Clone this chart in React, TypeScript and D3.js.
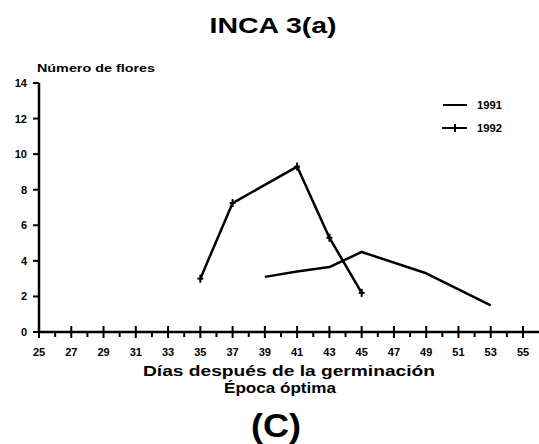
import React from 'react';
import * as d3 from 'd3';

const WIDTH = 539;
const HEIGHT = 444;
const FONT = "'Liberation Sans', Arial, sans-serif";

// días después de la germinación
const DAYS_1991 = [39, 41, 43, 45, 49, 53];
const FLOWERS_1991 = [3.1, 3.4, 3.65, 4.5, 3.3, 1.5];
const DAYS_1992 = [35, 37, 41, 43, 45];
const FLOWERS_1992 = [3.0, 7.25, 9.3, 5.3, 2.2];

const X_TICKS = [25, 27, 29, 31, 33, 35, 37, 39, 41, 43, 45, 47, 49, 51, 53, 55];
const X_MINOR = [26, 28, 30, 32, 34, 36, 38, 40, 42, 44, 46, 48, 50, 52, 54];
const Y_TICKS = [0, 2, 4, 6, 8, 10, 12, 14];

export default function App() {
    const x = d3.scaleLinear().domain([25, 55]).range([39, 523]);
    const y = d3.scaleLinear().domain([0, 14]).range([332, 83]);

    const line = d3.line<[number, number]>()
        .x(d => x(d[0]))
        .y(d => y(d[1]));

    const s1991 = DAYS_1991.map((d, i) => [d, FLOWERS_1991[i]] as [number, number]);
    const s1992 = DAYS_1992.map((d, i) => [d, FLOWERS_1992[i]] as [number, number]);

    return (
        <svg width={WIDTH} height={HEIGHT} style={{ position: 'absolute', left: 0, top: 0, background: '#fff' }}
            fontFamily={FONT} fontWeight="bold">
            <text x={273} y={33} textAnchor="middle" fontSize={22} textLength={127} lengthAdjust="spacingAndGlyphs">INCA 3(a)</text>
            <text x={37} y={72} fontSize={10} textLength={118} lengthAdjust="spacingAndGlyphs">Número de flores</text>

            {/* eje y */}
            <line x1={39} x2={39} y1={y(14)} y2={y(0)} stroke="#000" strokeWidth={2.5} />
            {Y_TICKS.map(t => (
                <g key={t}>
                    <line x1={33} x2={39} y1={y(t)} y2={y(t)} stroke="#000" strokeWidth={2} />
                    <text x={27} y={y(t) + 4} textAnchor="end" fontSize={11}>{t}</text>
                </g>
            ))}

            {/* eje x */}
            <line x1={39} x2={WIDTH} y1={y(0)} y2={y(0)} stroke="#000" strokeWidth={2.5} />
            {X_TICKS.map(t => (
                <g key={t}>
                    <line x1={x(t)} x2={x(t)} y1={y(0) - 6} y2={y(0) + 6} stroke="#000" strokeWidth={2} />
                    <text x={x(t)} y={356} textAnchor="middle" fontSize={11}>{t}</text>
                </g>
            ))}
            {X_MINOR.map(t => (
                <line key={t} x1={x(t)} x2={x(t)} y1={y(0)} y2={y(0) + 5} stroke="#000" strokeWidth={2} />
            ))}

            {/* series */}
            <path d={line(s1991) ?? ''} fill="none" stroke="#000" strokeWidth={2.5} strokeLinejoin="round" />
            <path d={line(s1992) ?? ''} fill="none" stroke="#000" strokeWidth={2.5} strokeLinejoin="round" />
            {s1992.map((d, i) => (
                <g key={i} stroke="#000" strokeWidth={2}>
                    <line x1={x(d[0])} x2={x(d[0])} y1={y(d[1]) - 4} y2={y(d[1]) + 4} />
                    <line x1={x(d[0]) - 3} x2={x(d[0]) + 3} y1={y(d[1])} y2={y(d[1])} />
                </g>
            ))}

            {/* leyenda */}
            <line x1={443} x2={467} y1={105} y2={105} stroke="#000" strokeWidth={2} />
            <text x={477} y={109} fontSize={10} textLength={25} lengthAdjust="spacingAndGlyphs">1991</text>
            <line x1={442} x2={467} y1={128} y2={128} stroke="#000" strokeWidth={2} />
            <line x1={455} x2={455} y1={124} y2={132} stroke="#000" strokeWidth={2} />
            <text x={477} y={132} fontSize={10} textLength={25} lengthAdjust="spacingAndGlyphs">1992</text>

            <text x={289} y={376} textAnchor="middle" fontSize={15} textLength={292} lengthAdjust="spacingAndGlyphs">Días después de la germinación</text>
            <text x={280} y={393} textAnchor="middle" fontSize={15} textLength={112} lengthAdjust="spacingAndGlyphs">Época óptima</text>
            <text x={276} y={437} textAnchor="middle" fontSize={34} textLength={50} lengthAdjust="spacingAndGlyphs">(C)</text>
        </svg>
    );
}
